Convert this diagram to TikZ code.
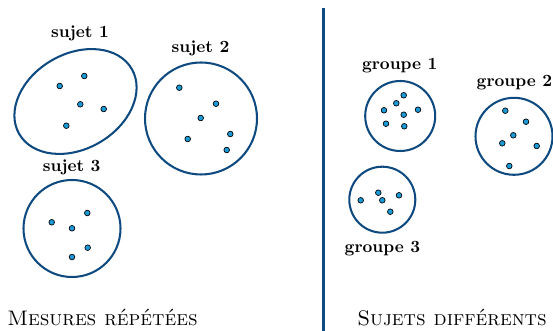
\documentclass[tikz,border=0pt]{standalone}
\usepackage{fontspec}
\usetikzlibrary{shapes.geometric}
\definecolor{ringblue}{HTML}{0E4A80}
\definecolor{dotblue}{HTML}{1A9AD6}
\begin{document}
\begin{tikzpicture}[x=0.585pt,y=-0.585pt,
  ring/.style={circle,draw=ringblue,line width=1.2pt,inner sep=0pt,minimum size={#1*0.585pt}},
  oval/.style={ellipse,draw=ringblue,line width=1.2pt,inner sep=0pt,
    minimum width={130*0.585pt},minimum height={95*0.585pt},rotate=30},
  pt/.style={circle,fill=dotblue,draw=black,line width=0.4pt,inner sep=0pt,minimum size=3.3pt},
  lab/.style={font=\bfseries},
  title/.style={anchor=base,font=\fontsize{12.3}{14}\selectfont}]
\useasboundingbox (0,0) rectangle (553,331);

% left panel: repeated measures
\node[oval] (s1) at (75.5,101.5) {};
\node[lab] (l1) at (80,33) {sujet 1};
\foreach \p/\q [count=\i] in {59.7/86,84.3/76,80.3/104.3,103.7/109,66.3/125.7}
  \node[pt] (s1d\i) at (\p,\q) {};

\node[ring=112] (s2) at (201,118.5) {};
\node[lab] (l2) at (200.5,48.5) {sujet 2};
\foreach \p/\q [count=\i] in {179.3/87.7,216/103.7,200.7/118,230.3/134,187.7/139,226.7/150}
  \node[pt] (s2d\i) at (\p,\q) {};

\node[ring=97] (s3) at (72,228.5) {};
\node[lab] (l3) at (71.7,167) {sujet 3};
\foreach \p/\q [count=\i] in {51.7/222.3,87.3/213,72/228.3,87.7/247.7,72/257}
  \node[pt] (s3d\i) at (\p,\q) {};

\node[title] (t1) at (102.5,326) {\textsc{Mesures répétées}};

% separator
\coordinate (sepT) at (323.5,8);
\coordinate (sepB) at (323.5,331);
\draw[ringblue,line width=1.2pt] (sepT) -- (sepB);

% right panel: different subjects
\node[ring=70] (g1) at (400.2,116) {};
\node[lab] (m1) at (399.8,65.5) {groupe 1};
\foreach \p/\q [count=\i] in {403.7/95.3,396.3/103.3,384/110.3,418/109.7,403.7/114.7,386/123.7,404.3/126.3}
  \node[pt] (g1d\i) at (\p,\q) {};

\node[ring=77] (g2) at (514,136.3) {};
\node[lab] (m2) at (514.5,82.5) {groupe 2};
\foreach \p/\q [count=\i] in {505.3/110.7,526/121.7,513.3/135.3,502.3/143.3,536.7/146,509.3/166}
  \node[pt] (g2d\i) at (\p,\q) {};

\node[ring=66] (g3) at (382.3,199.7) {};
\node[lab] (m3) at (382.5,249) {groupe 3};
\foreach \p/\q [count=\i] in {360.7/200.3,378.3/192.7,382.3/200.3,399/195.3,390.3/211.7}
  \node[pt] (g3d\i) at (\p,\q) {};

\node[title] (t2) at (452,326) {\textsc{Sujets différents}};
\end{tikzpicture}
\end{document}
